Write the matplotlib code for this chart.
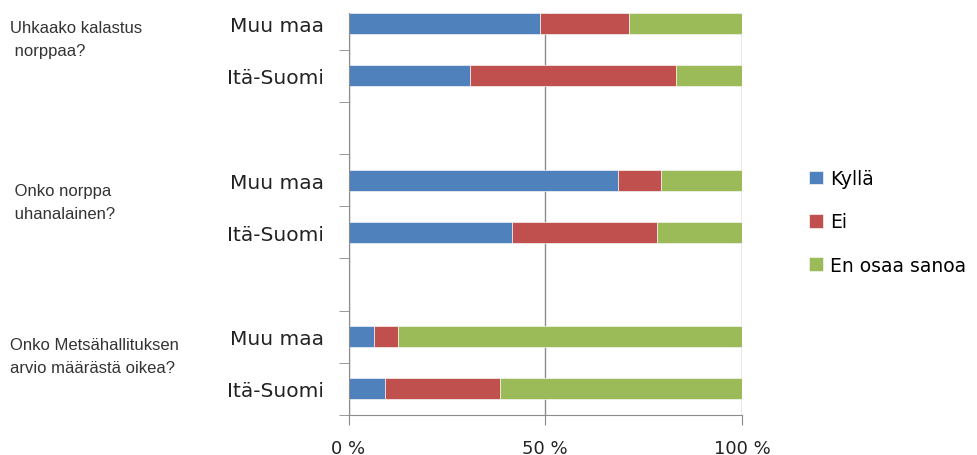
import numpy as np
import matplotlib.pyplot as plt

# Kyselyn tulokset (%), rivit alhaalta ylös
rivit = ["Itä-Suomi", "Muu maa", "", "Itä-Suomi", "Muu maa", "", "Itä-Suomi", "Muu maa"]
kylla = [9.4, 6.6, 0, 41.5, 68.4, 0, 31.0, 48.7]
ei = [29.2, 5.9, 0, 36.8, 10.9, 0, 52.2, 22.6]
en_osaa = [61.4, 87.5, 0, 21.7, 20.7, 0, 16.8, 28.7]

kysymykset = ["Uhkaako kalastus\n norppaa?", " Onko norppa\n uhanalainen?",
              "Onko Metsähallituksen\narvio määrästä oikea?"]
sarjat = ["Kyllä", "Ei", "En osaa sanoa"]
varit = ["#4F81BD", "#C0504D", "#9BBB59"]

fig = plt.figure(figsize=(9.77, 4.56), dpi=100)
ax = fig.add_axes([348.5 / 977, 1 - 416 / 456, 393.5 / 977, 402 / 456])

y = np.arange(len(rivit))
vasen = np.zeros(len(rivit))
for arvot, nimi, vari in zip([kylla, ei, en_osaa], sarjat, varit):
    arvot = np.array(arvot)
    nakyva = arvot > 0
    ax.barh(y[nakyva], arvot[nakyva], left=vasen[nakyva], height=0.4, color=vari,
            label=nimi, edgecolor="#f4f4f4", linewidth=0.5, zorder=2)
    vasen += arvot

ax.set_xlim(0, 100)
ax.set_ylim(-0.5, 7.2)
ax.set_xticks([0, 50, 100])
ax.set_xticklabels(["0 %", "50 %", "100 %"], fontsize=13, color="#222222")
ax.tick_params(axis="x", length=7, color="#888888", pad=10)
ax.set_yticks(y)
ax.set_yticklabels(rivit, fontsize=14.5, color="#222222")
ax.set_yticks(np.arange(-0.5, 7, 1), minor=True)
ax.tick_params(axis="y", which="major", length=0, pad=18)
ax.tick_params(axis="y", which="minor", length=7, color="#888888")
ax.xaxis.grid(True, color="#8c8c8c", linewidth=1, zorder=0)
for s in ["top", "right"]:
    ax.spines[s].set_visible(False)
for s in ["left", "bottom"]:
    ax.spines[s].set_color("#8c8c8c")
    ax.spines[s].set_zorder(3)

# Kysymysten otsikot vasemmalle
for teksti, yk in zip(kysymykset, [40, 203, 357]):
    fig.text(10 / 977, 1 - yk / 456, teksti, fontsize=12, family="Liberation Sans",
             color="#333333", va="center", ha="left", linespacing=1.6)

fig.legend(loc="center left", bbox_to_anchor=(792 / 977, 1 - 223 / 456),
           frameon=False, fontsize=13.5, handlelength=0.75, handleheight=0.75,
           handletextpad=0.4, labelspacing=1.3)

plt.savefig("out.png", dpi=100)
